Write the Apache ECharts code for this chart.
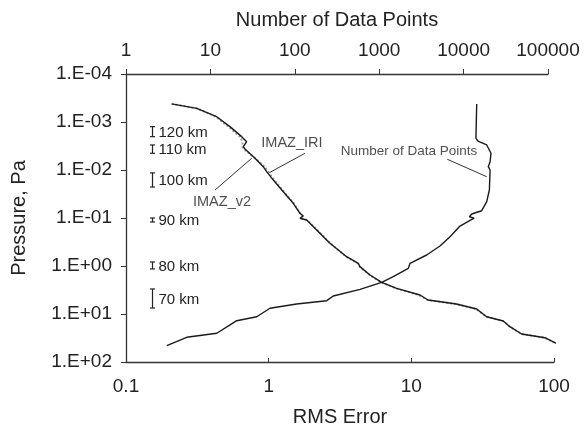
<!DOCTYPE html>
<html>
<head>
<meta charset="utf-8">
<script src="https://cdn.jsdelivr.net/npm/echarts@6/dist/echarts.min.js"></script>
<style>
  html, body { margin: 0; padding: 0; background: #fff; }
  #chart { width: 585px; height: 429px; }
</style>
</head>
<body>
<div id="chart"></div>
<script>
// pressure levels (Pa) for the RMS error curves
const rmsPressure = [4.2e-4, 5.19e-4, 7.76e-4, 1.25e-3, 2.02e-3, 2.57e-3, 3.27e-3, 3.65e-3, 5.7e-3, 8.53e-3,
  1.08e-2, 1.62e-2, 2.83e-2, 4.94e-2, 7.98e-2, 9.08e-2, 0.1014, 0.11, 0.178, 0.287, 0.336, 0.64, 0.879, 1.03,
  1.54, 2.19, 2.92, 4.02, 5.11, 6.19, 7.87, 11.4, 14.0, 18.4, 26.1, 31.2, 46.4];
const rmsV2 = [0.209, 0.313, 0.432, 0.535, 0.647, 0.701, 0.664, 0.682, 0.802, 0.916,
  0.968, 1.077, 1.266, 1.487, 1.657, 1.748, 1.657, 1.845, 2.17, 2.55, 2.69, 3.52, 4.25, 4.36,
  5.13, 6.19, 7.89, 11.5, 13.1, 20.7, 28.7, 33.7, 44.1, 49.1, 59.3, 86.3, 113];
const rmsIri = [0.209, 0.313, 0.428, 0.522, 0.628, 0.655, 0.655, 0.668, 0.805, 0.935,
  0.99, 1.095, 1.28, 1.5, 1.67, 1.73, 1.68, 1.86, 2.19, 2.56, 2.7, 3.48, 4.2, 4.33,
  5.1, 6.15, 7.8, 11.3, 13.0, 20.5, 28.5, 33.5, 43.8, 49.0, 59.0, 86.0, 112];

// number of data points per pressure level
const countPressure = [4.22e-4, 2.19e-3, 2.49e-3, 3.01e-3, 4.49e-3, 6.72e-3, 8.53e-3, 1.0e-2, 2.61e-2, 4.57e-2,
  7.05e-2, 8.26e-2, 9.4e-2, 0.101, 0.147, 0.245, 0.383, 0.59, 0.879, 1.12, 1.67, 2.19, 3.06, 4.22,
  5.28, 6.19, 7.6, 11.4, 13.8, 16.9, 25.2, 30.6, 45.7];
const countValues = [14300, 14000, 14800, 18800, 21100, 20600, 19600, 20600, 20200, 18800,
  16400, 12500, 11700, 13300, 9060, 6900, 5250, 3650, 2320, 2210, 1470, 1070, 593, 286,
  239, 105, 50.8, 35.4, 20.5, 17.1, 11.9, 5.24, 3.04];

// altitude bands (pressure range)
const kmLabels = ['120 km', '110 km', '100 km', '90 km', '80 km', '70 km'];
const kmLow = [1.25e-3, 3.01e-3, 1.15e-2, 0.1, 0.825, 3.01];
const kmHigh = [2.02e-3, 4.49e-3, 2.26e-2, 0.121, 1.15, 7.5];
const kmX = 0.151;

// annotations
const noteText = ['IMAZ_IRI', 'IMAZ_v2'];
const notePos = [[1.455, 2.74e-3], [0.471, 4.57e-2]];
const iriArrow = [[1.795, 4.49e-3], [1.01, 1.14e-2]];
const v2Arrow = [[0.421, 2.61e-2], [0.76, 5.7e-3]];
const countNote = [2250, 4.16e-3];
const countArrow = [[6410, 5.98e-3], [18800, 1.38e-2]];

const FONT = 'Liberation Sans';
const INK = '#222';
const LINE = '#1a1a1a';

const fmtPow = v => {
  const e = Math.round(Math.log10(v));
  return '1.E' + (e < 0 ? '-' : '+') + String(Math.abs(e)).padStart(2, '0');
};
const fmtNum = v => String(+(+v).toPrecision(3));

const arrow = (pts) => ({
  silent: true,
  symbol: ['none', 'arrow'],
  symbolSize: [0, 7],
  label: { show: false },
  lineStyle: { color: '#333', width: 1, type: 'solid' },
  data: [[{ coord: pts[0] }, { coord: pts[1] }]],
});

const yBase = {
  type: 'log', logBase: 10, inverse: true, min: 1e-4, max: 100, splitNumber: 6,
  splitLine: { show: false },
};

const chart = echarts.init(document.getElementById('chart'));
chart.setOption({
  animation: false,
  backgroundColor: '#fff',
  textStyle: { fontFamily: FONT },
  grid: [
    { left: 126, right: 31, top: 74, bottom: 67, containLabel: false, outerBoundsMode: 'none' },
    { left: 126, right: 37, top: 74, bottom: 67, containLabel: false, outerBoundsMode: 'none' },
  ],
  xAxis: [
    {
      gridIndex: 0, type: 'log', logBase: 10, min: 0.1, max: 100, splitNumber: 3, position: 'bottom',
      name: 'RMS Error', nameLocation: 'middle', nameGap: 45,
      nameTextStyle: { fontSize: 20, color: INK, fontFamily: FONT },
      axisLine: { lineStyle: { color: '#333', width: 1.3 } },
      axisTick: { inside: true, length: 4, lineStyle: { color: '#333' } },
      axisLabel: { fontSize: 19, color: INK, margin: 15, formatter: fmtNum },
      splitLine: { show: false },
    },
    {
      gridIndex: 1, type: 'log', logBase: 10, min: 1, max: 100000, splitNumber: 5, position: 'top',
      name: 'Number of Data Points', nameLocation: 'middle', nameGap: 44,
      nameTextStyle: { fontSize: 20, color: INK, fontFamily: FONT },
      axisLine: { lineStyle: { color: '#333', width: 1.3 } },
      axisTick: { inside: false, length: 5, lineStyle: { color: '#333' } },
      axisLabel: { fontSize: 19, color: INK, margin: 14, formatter: fmtNum },
      splitLine: { show: false },
    },
  ],
  yAxis: [
    Object.assign({}, yBase, {
      gridIndex: 0,
      name: 'Pressure, Pa', nameLocation: 'middle', nameGap: 97,
      nameTextStyle: { fontSize: 20, color: INK, fontFamily: FONT },
      axisLine: { show: true, lineStyle: { color: '#333', width: 1.3 } },
      axisTick: { show: true, inside: false, length: 5, lineStyle: { color: '#333' } },
      axisLabel: { fontSize: 19, color: INK, margin: 14, formatter: fmtPow },
    }),
    Object.assign({}, yBase, { gridIndex: 1, show: false }),
  ],
  series: [
    {
      name: 'IMAZ_IRI', type: 'line', xAxisIndex: 0, yAxisIndex: 0, clip: false,
      showSymbol: false, symbol: 'none',
      lineStyle: { color: '#a0a0a0', width: 2, type: 'dotted' },
      data: rmsIri.map((v, i) => [v, rmsPressure[i]]),
      markLine: arrow(iriArrow),
    },
    {
      name: 'IMAZ_v2', type: 'line', xAxisIndex: 0, yAxisIndex: 0, clip: false,
      showSymbol: false, symbol: 'none',
      lineStyle: { color: LINE, width: 1.4 },
      data: rmsV2.map((v, i) => [v, rmsPressure[i]]),
      markLine: arrow(v2Arrow),
    },
    {
      name: 'Number of Data Points', type: 'line', xAxisIndex: 1, yAxisIndex: 1, clip: false,
      showSymbol: false, symbol: 'none',
      lineStyle: { color: LINE, width: 1.4 },
      data: countValues.map((v, i) => [v, countPressure[i]]),
      markLine: arrow(countArrow),
    },
    {
      // curve names written on the plot
      type: 'scatter', xAxisIndex: 0, yAxisIndex: 0, symbolSize: 1, silent: true,
      itemStyle: { color: 'transparent' },
      label: {
        show: true, position: 'inside', fontSize: 14.5, color: INK, fontFamily: FONT,
        formatter: p => noteText[p.dataIndex],
      },
      data: notePos,
    },
    {
      type: 'scatter', xAxisIndex: 1, yAxisIndex: 1, symbolSize: 1, silent: true,
      itemStyle: { color: 'transparent' },
      label: {
        show: true, position: 'inside', fontSize: 13.5, color: INK, fontFamily: FONT,
        formatter: 'Number of Data Points',
      },
      data: [countNote],
    },
    {
      // altitude range bars
      type: 'custom', xAxisIndex: 0, yAxisIndex: 0, silent: true,
      data: kmLabels.map((l, i) => [kmX, kmLow[i], kmHigh[i]]),
      renderItem: (params, api) => {
        const a = api.coord([api.value(0), api.value(1)]);
        const b = api.coord([api.value(0), api.value(2)]);
        const x = Math.round(a[0]) + 0.5;
        const st = { stroke: '#222', lineWidth: 1.2 };
        return {
          type: 'group',
          children: [
            { type: 'line', shape: { x1: x, y1: a[1], x2: x, y2: b[1] }, style: st },
            { type: 'line', shape: { x1: x - 2.5, y1: a[1], x2: x + 2.5, y2: a[1] }, style: st },
            { type: 'line', shape: { x1: x - 2.5, y1: b[1], x2: x + 2.5, y2: b[1] }, style: st },
            {
              type: 'text',
              style: {
                text: kmLabels[params.dataIndex], x: x + 6, y: (a[1] + b[1]) / 2 + 1,
                align: 'left', verticalAlign: 'middle',
                fontSize: 15, fontFamily: FONT, fill: INK,
              },
            },
          ],
        };
      },
    },
  ],
});
window.addEventListener('resize', () => chart.resize());
</script>
</body>
</html>
